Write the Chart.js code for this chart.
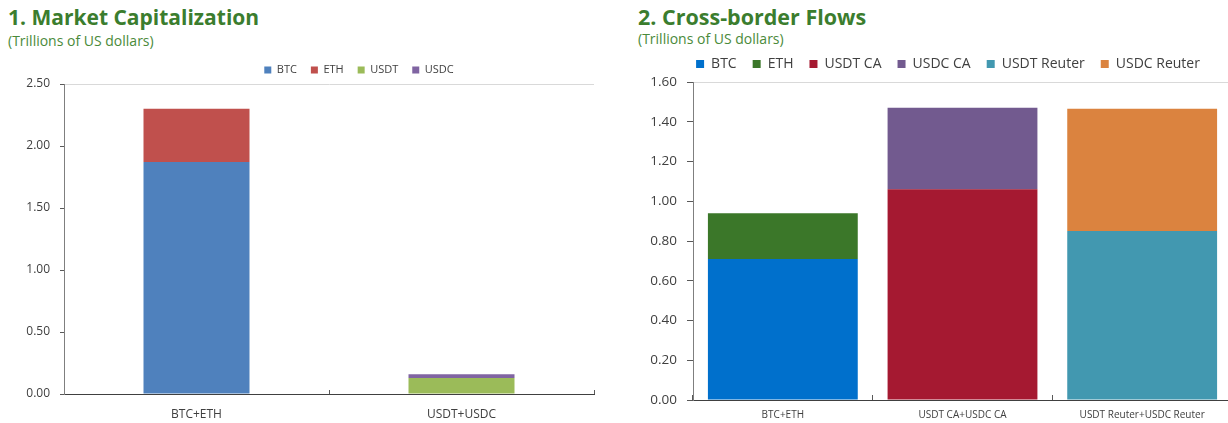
<!DOCTYPE html>
<html>
<head>
<meta charset="utf-8">
<script src="https://cdn.jsdelivr.net/npm/chart.js@4"></script>
<style>
  html, body { margin: 0; padding: 0; background: #fff; overflow: hidden; }
  body { width: 1228px; height: 423px; position: relative; font-family: 'Open Sans', 'Noto Sans', sans-serif; }
  .title { position: absolute; color: #3b7d2e; font-weight: 700; font-size: 21px; line-height: 21px; white-space: nowrap; }
  .sub { position: absolute; color: #4a8a3a; font-size: 14px; line-height: 14px; white-space: nowrap; }
  canvas { position: absolute; top: 0; }
</style>
</head>
<body>
<div class="title" style="left:8px; top:7px;">1. Market Capitalization</div>
<div class="sub" style="left:8px; top:34px;">(Trillions of US dollars)</div>
<div class="title" style="left:638px; top:6px; font-size:21.5px;">2. Cross-border Flows</div>
<div class="sub" style="left:638px; top:32px;">(Trillions of US dollars)</div>
<canvas id="mcap-chart" width="610" height="423" style="left:0px"></canvas>
<canvas id="flows-chart" width="612" height="423" style="left:620px"></canvas>
<script>
// market capitalization (trillions USD)
const mcapCats = ['BTC+ETH', 'USDT+USDC'];
const btcMcap = [1.87, null];
const ethMcap = [0.43, null];
const usdtMcap = [null, 0.13];
const usdcMcap = [null, 0.03];

// cross-border flows (trillions USD)
const flowCats = ['BTC+ETH', 'USDT CA+USDC CA', 'USDT Reuter+USDC Reuter'];
const btcFlow = [0.71, null, null];
const ethFlow = [0.23, null, null];
const usdtCaFlow = [null, 1.06, null];
const usdcCaFlow = [null, 0.41, null];
const usdtReuterFlow = [null, null, 0.85];
const usdcReuterFlow = [null, null, 0.615];

Chart.defaults.font.family = "'Open Sans', 'Noto Sans', sans-serif";
Chart.defaults.color = '#404040';
Chart.defaults.animation = false;

// move the legend row to a given centre point
const legendShift = {
    id: 'legendShift',
    afterLayout(chart, args, opts) {
        const lg = chart.legend;
        if (!lg) return;
        const dx = opts.x - (lg.left + lg.right) / 2;
        const dy = opts.y - (lg.top + lg.height / 2);
        lg.left += dx; lg.right += dx;
        lg.top += dy; lg.bottom += dy;
    }
};

function yAxis(max, step, width, tickLen, size) {
    return {
        stacked: true,
        min: 0,
        max: max,
        afterFit: scale => { scale.width = width; },
        border: { color: '#7f7f7f' },
        grid: {
            color: ctx => (ctx.tick && ctx.tick.value === max) ? '#d9d9d9' : 'rgba(0,0,0,0)',
            tickColor: '#595959',
            tickLength: tickLen
        },
        ticks: {
            stepSize: step,
            padding: 10,
            font: { size: size },
            callback: v => v.toFixed(2)
        }
    };
}

function xAxis(height, tickLen, pad, size) {
    return {
        stacked: true,
        afterFit: scale => { scale.height = height; },
        border: { color: '#404040' },
        grid: { drawOnChartArea: false, color: '#595959', tickLength: tickLen },
        ticks: { padding: pad, font: { size: size }, maxRotation: 0 }
    };
}

let mcapChart = new Chart(document.getElementById('mcap-chart'), {
    type: 'bar',
    data: {
        labels: mcapCats,
        datasets: [
            { label: 'BTC', data: btcMcap, backgroundColor: '#4f81bd' },
            { label: 'ETH', data: ethMcap, backgroundColor: '#c0504d' },
            { label: 'USDT', data: usdtMcap, backgroundColor: '#9bbb59' },
            { label: 'USDC', data: usdcMcap, backgroundColor: '#8064a2' }
        ]
    },
    options: {
        responsive: false,
        devicePixelRatio: 1,
        datasets: { bar: { barPercentage: 0.4, categoryPercentage: 1 } },
        layout: { padding: { top: 49, right: 16, bottom: 3, left: 0 } },
        plugins: {
            tooltip: { enabled: false },
            legend: {
                labels: { boxWidth: 7, boxHeight: 7, padding: 14, font: { size: 11 } }
            },
            legendShift: { x: 359, y: 68 }
        },
        scales: {
            x: xAxis(26, -4, 17, 12),
            y: yAxis(2.5, 0.5, 64, 4, 12)
        }
    },
    plugins: [legendShift]
});

let flowsChart = new Chart(document.getElementById('flows-chart'), {
    type: 'bar',
    data: {
        labels: flowCats,
        datasets: [
            { label: 'BTC', data: btcFlow, backgroundColor: '#0070cc' },
            { label: 'ETH', data: ethFlow, backgroundColor: '#3b7729' },
            { label: 'USDT CA', data: usdtCaFlow, backgroundColor: '#a51931' },
            { label: 'USDC CA', data: usdcCaFlow, backgroundColor: '#725a8f' },
            { label: 'USDT Reuter', data: usdtReuterFlow, backgroundColor: '#4298b0' },
            { label: 'USDC Reuter', data: usdcReuterFlow, backgroundColor: '#db833f' }
        ]
    },
    options: {
        responsive: false,
        devicePixelRatio: 1,
        datasets: { bar: { barPercentage: 0.834, categoryPercentage: 1 } },
        layout: { padding: { top: 42, right: 0, bottom: 1, left: 0 } },
        plugins: {
            tooltip: { enabled: false },
            legend: {
                labels: { boxWidth: 8, boxHeight: 8, padding: 16, font: { size: 14 } }
            },
            legendShift: { x: 328, y: 61 }
        },
        scales: {
            x: xAxis(22, -5, 14, 10),
            y: yAxis(1.6, 0.2, 73, 6, 13.5)
        }
    },
    plugins: [legendShift]
});
</script>
</body>
</html>
